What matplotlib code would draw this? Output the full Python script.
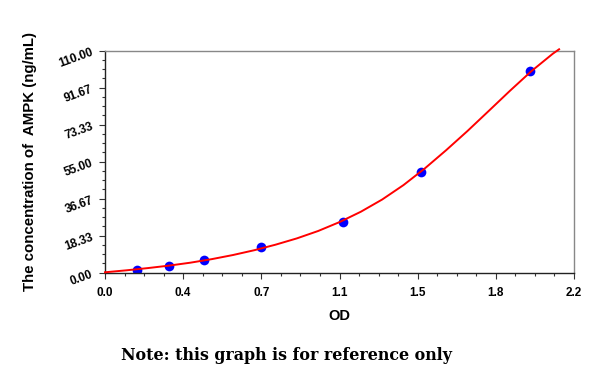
import matplotlib
matplotlib.use("Agg")
import matplotlib.pyplot as plt
from matplotlib.ticker import FormatStrFormatter, AutoMinorLocator
import numpy as np

# standard points
od = [0.149, 0.302, 0.466, 0.733, 1.118, 1.481, 1.993]
conc = [1.56, 3.12, 6.25, 12.5, 25.0, 50.0, 100.0]

# fitted curve
curve_od = [0.0, 0.1, 0.2, 0.3, 0.4, 0.5, 0.6, 0.7, 0.8, 0.9, 1.0, 1.1,
            1.2, 1.3, 1.4, 1.5, 1.6, 1.7, 1.8, 1.9, 2.0, 2.1, 2.13]
curve_conc = [0.2, 1.17, 2.27, 3.5, 4.95, 6.7, 8.75, 11.13, 13.88, 17.0,
              20.67, 25.07, 30.2, 36.25, 43.4, 51.65, 60.68, 70.18, 80.15,
              90.18, 99.85, 108.46, 110.7]

xmin, xmax = 0.0, 2.2
ymin, ymax = 0.0, 110.0

plt.rcParams['font.family'] = ['Liberation Sans', 'DejaVu Sans']

fig = plt.figure(figsize=(6, 3.7), dpi=100)
ax = fig.add_axes([0.175, 0.263, 0.7817, 0.6])

ax.plot(od, conc, 'o', color='#0000ff', markersize=7, markeredgewidth=0, zorder=2)
ax.plot(curve_od, curve_conc, color='#ff0000', linewidth=1.4, zorder=3, clip_on=False)

ax.set_xlim(xmin, xmax)
ax.set_ylim(ymin, ymax)
ax.set_xticks(np.linspace(xmin, xmax, 7))
ax.set_yticks(np.linspace(ymin, ymax, 7))
ax.xaxis.set_major_formatter(FormatStrFormatter('%.1f'))
ax.yaxis.set_major_formatter(FormatStrFormatter('%.2f'))
ax.xaxis.set_minor_locator(AutoMinorLocator(4))
ax.yaxis.set_minor_locator(AutoMinorLocator(4))

ax.tick_params(which='major', length=4.5, width=0.8, color='#333333', labelsize=8.5)
ax.tick_params(which='minor', length=2.5, width=0.8, color='#333333')
ax.tick_params(axis='x', pad=6)
ax.tick_params(axis='y', pad=3)
for lab in ax.get_xticklabels():
    lab.set_fontweight('bold')
for lab in ax.get_yticklabels():
    lab.set_rotation(20)
    lab.set_fontweight('bold')

for s in ['left', 'bottom']:
    ax.spines[s].set_color('#222222')
    ax.spines[s].set_linewidth(1.0)
for s in ['top', 'right']:
    ax.spines[s].set_color('#888888')
    ax.spines[s].set_linewidth(1.0)

ax.set_xlabel('OD', fontsize=10.5, fontweight='bold', labelpad=7)
ax.set_ylabel('The concentration of  AMPK (ng/mL)', fontsize=10.8, fontweight='bold', labelpad=14)

fig.text(0.478, 0.0405, 'Note: this graph is for reference only',
         fontsize=11.4, fontweight='bold', ha='center', va='center',
         family=['DejaVu Serif'])

fig.savefig('out.png', dpi=100)
